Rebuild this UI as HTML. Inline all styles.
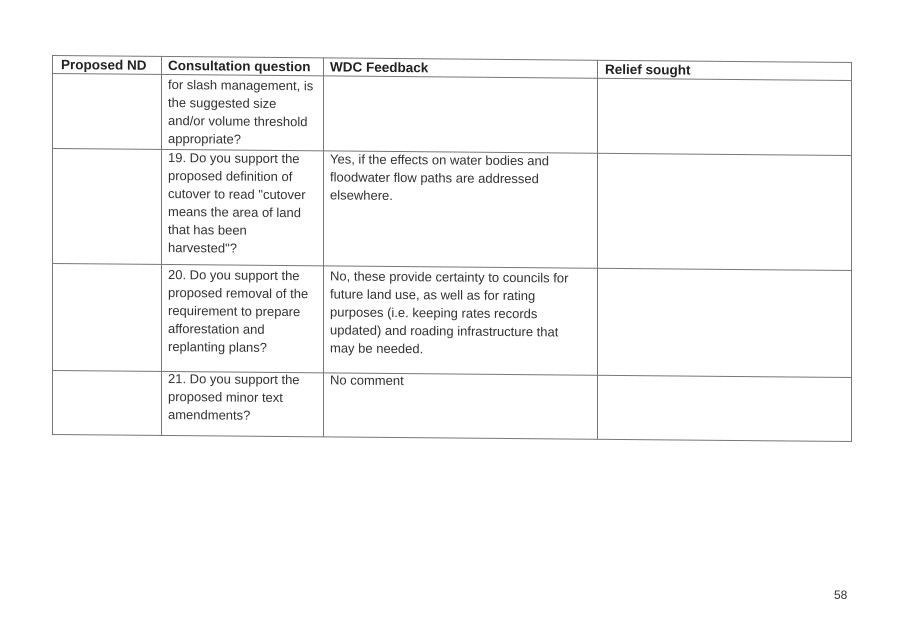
<!DOCTYPE html>
<html><head><style>
html,body{margin:0;padding:0;background:#fff;width:907px;height:626px;overflow:hidden}
#t{position:absolute;left:0;top:0;width:907px;height:626px;transform-origin:52px 55px;transform:skewY(0.5deg)}
.l{position:absolute;background:#777}
.h{height:1px}.v{width:1px}
.tx{position:absolute;font-family:"Liberation Sans",sans-serif;font-size:13px;line-height:18px;color:#333;white-space:nowrap}
.b{font-weight:bold;color:#222;font-size:13.5px}
</style></head><body>
<div id="t">
<div class="l h" style="left:52px;width:800px;top:55px"></div>
<div class="l h" style="left:52px;width:800px;top:73px"></div>
<div class="l h" style="left:52px;width:800px;top:148px"></div>
<div class="l h" style="left:52px;width:800px;top:263px"></div>
<div class="l h" style="left:52px;width:800px;top:370px"></div>
<div class="l h" style="left:52px;width:800px;top:434px"></div>
<div class="l v" style="left:52px;top:55px;height:380px"></div>
<div class="l v" style="left:161px;top:55px;height:380px"></div>
<div class="l v" style="left:323px;top:55px;height:380px"></div>
<div class="l v" style="left:597px;top:55px;height:380px"></div>
<div class="l v" style="left:851px;top:55px;height:380px"></div>

<div class="tx b" style="left:61px;top:56px">Proposed ND</div>
<div class="tx b" style="left:168px;top:56px">Consultation question</div>
<div class="tx b" style="left:330px;top:56px">WDC Feedback</div>
<div class="tx b" style="left:605px;top:56px">Relief sought</div>

<div class="tx" style="left:168px;top:75px">for slash management, is<br>the suggested size<br>and/or volume threshold<br>appropriate?</div>
<div class="tx" style="left:168px;top:148px">19. Do you support the<br>proposed definition of<br>cutover to read "cutover<br>means the area of land<br>that has been<br>harvested"?</div>
<div class="tx" style="left:330px;top:148px">Yes, if the effects on water bodies and<br>floodwater flow paths are addressed<br>elsewhere.</div>
<div class="tx" style="left:168px;top:265px">20. Do you support the<br>proposed removal of the<br>requirement to prepare<br>afforestation and<br>replanting plans?</div>
<div class="tx" style="left:330px;top:265px">No, these provide certainty to councils for<br>future land use, as well as for rating<br>purposes (i.e. keeping rates records<br>updated) and roading infrastructure that<br>may be needed.</div>
<div class="tx" style="left:168px;top:369px">21. Do you support the<br>proposed minor text<br>amendments?</div>
<div class="tx" style="left:330px;top:369px">No comment</div>
</div>
<div class="tx" style="left:834px;top:586px;font-size:12px">58</div>
</body></html>
